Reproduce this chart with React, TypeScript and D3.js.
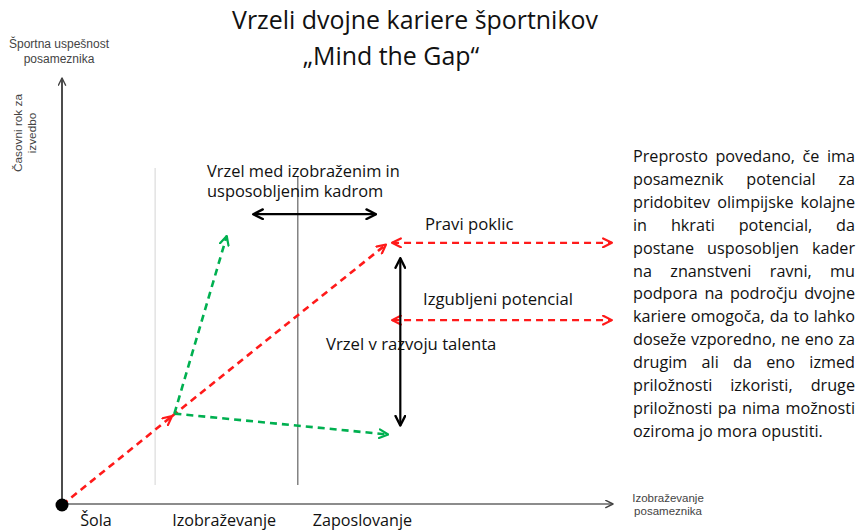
import React from "react";
import * as d3 from "d3";

const W = 858;
const H = 530;

const titleLines = ["Vrzeli dvojne kariere športnikov", "„Mind the Gap“"];
const yAxisTitle = ["Športna uspešnost", "posameznika"];
const yAxisSub = ["Časovni rok za", "izvedbo"];
const xAxisTitle = ["Izobraževanje", "posameznika"];
const stages = ["Šola", "Izobraževanje", "Zaposlovanje"];
const stageX = [3.3, 20, 45.5];

// arrows: [x1, y1, x2, y2] in diagram units (0..100)
const redArrows = [
  [0, 0, 19.96, 20.8],
  [19.96, 20.8, 58.8, 61],
];
const greenArrows = [
  [20.4, 21.4, 29.9, 63],
  [20.4, 21.4, 59.2, 16.5],
];
const redDouble = [
  [59.9, 61.4, 99.8, 61.4],
  [59.9, 43.3, 99.8, 43.3],
];
const blackDouble = [
  [61.4, 57.8, 61.4, 18.6],
  [34.7, 68.1, 57.0, 68.1],
];
const guideLines = [
  { x: 16.9, y1: 4.7, y2: 78.9, c: "#d8d8d8" },
  { x: 42.8, y1: 4.7, y2: 76.8, c: "#555" },
];

const labelVrzelMed = ["Vrzel med izobraženim in", "usposobljenim kadrom"];
const labelPravi = "Pravi poklic";
const labelIzgub = "Izgubljeni potencial";
const labelTalent = "Vrzel v razvoju talenta";

const paragraph = [
  "Preprosto povedano, če ima",
  "posameznik potencial za",
  "pridobitev olimpijske kolajne",
  "in hkrati potencial, da",
  "postane usposobljen kader",
  "na znanstveni ravni, mu",
  "podpora na področju dvojne",
  "kariere omogoča, da to lahko",
  "doseže vzporedno, ne eno za",
  "drugim ali da eno izmed",
  "priložnosti izkoristi, druge",
  "priložnosti pa nima možnosti",
  "oziroma jo mora opustiti.",
];

const FONT = "'Open Sans', Lato, sans-serif";
const SMALL = "'Liberation Sans', Arial, sans-serif";

let ctx: CanvasRenderingContext2D | null = null;
function measure(text: string, size: number, family: string) {
  if (!ctx) ctx = document.createElement("canvas").getContext("2d");
  if (!ctx) return text.length * size * 0.5;
  ctx.font = `${size}px ${family}`;
  return ctx.measureText(text).width;
}
function fit(text: string, target: number, family: string = FONT) {
  const w = measure(text, 100, family);
  return w > 0 ? (100 * target) / w : 15;
}

export default function App() {
  const x = d3.scaleLinear().domain([0, 100]).range([62, 613]);
  const y = d3.scaleLinear().domain([0, 100]).range([505, 78]);

  const parX0 = 633;
  const parX1 = 855;
  const parSize = fit(paragraph[paragraph.length - 1], 190);
  const parY0 = 162;
  const parDy = 22.9;

  const titleSize = fit(titleLines[0], 366);
  const stageSize = fit(stages[1], 104);
  const midSize = fit(labelVrzelMed[0], 193);
  const annSize = fit(labelIzgub, 150);

  const line = (a: number[], color: string, marker: string, dbl: boolean, dash: string | null, w: number, key: string) => (
    <line
      key={key}
      x1={x(a[0])}
      y1={y(a[1])}
      x2={x(a[2])}
      y2={y(a[3])}
      stroke={color}
      strokeWidth={w}
      strokeDasharray={dash ?? undefined}
      markerEnd={`url(#${marker})`}
      markerStart={dbl ? `url(#${marker})` : undefined}
    />
  );

  const mk = (id: string, color: string, sw: number, s: number) => (
    <marker
      id={id}
      viewBox="0 0 10 10"
      refX={9}
      refY={5}
      markerWidth={s}
      markerHeight={s}
      markerUnits="userSpaceOnUse"
      orient="auto-start-reverse"
    >
      <path d="M1,1 L9,5 L1,9" fill="none" stroke={color} strokeWidth={sw} strokeLinecap="round" strokeLinejoin="round" />
    </marker>
  );

  return (
    <svg width={W} height={H} style={{ position: "absolute", left: 0, top: 0, background: "#fff" }}>
      <defs>
        {mk("mRed", "#ff1a1a", 2, 11)}
        {mk("mGreen", "#00b050", 2, 11)}
        {mk("mBlack", "#000", 2, 12)}
        {mk("mAxis", "#444", 1.6, 9)}
      </defs>
      <rect width={W} height={H} fill="#fff" />

      {/* title */}
      <text x={415} y={29} textAnchor="middle" fontFamily={FONT} fontSize={titleSize} fill="#111">
        {titleLines[0]}
      </text>
      <text x={391} y={65} textAnchor="middle" fontFamily={FONT} fontSize={titleSize} fill="#111">
        {titleLines[1]}
      </text>

      {/* guide lines */}
      {guideLines.map((g, i) => (
        <line key={i} x1={x(g.x)} x2={x(g.x)} y1={y(g.y1)} y2={y(g.y2)} stroke={g.c} strokeWidth={1.1} />
      ))}

      {/* axes */}
      <line x1={x(0)} y1={y(0)} x2={x(0)} y2={y(100)} stroke="#111" strokeWidth={1.5} markerEnd="url(#mAxis)" />
      <line x1={x(0)} y1={y(0) - 1} x2={x(100)} y2={y(0) - 1} stroke="#666" strokeWidth={1.5} markerEnd="url(#mAxis)" />

      {/* arrows */}
      {redArrows.map((a, i) => line(a, "#ff1a1a", "mRed", false, "7,5", 2.6, "r" + i))}
      {greenArrows.map((a, i) => line(a, "#00b050", "mGreen", false, "7,5", 2.6, "g" + i))}
      {redDouble.map((a, i) => line(a, "#ff1a1a", "mRed", true, "7,5", 2.2, "rd" + i))}
      {blackDouble.map((a, i) => line(a, "#000", "mBlack", true, null, 2.2, "b" + i))}

      <circle cx={x(0)} cy={y(0)} r={6.5} fill="#000" />

      {/* axis titles */}
      {yAxisTitle.map((t, i) => (
        <text key={i} x={59} y={48 + i * 15} textAnchor="middle" fontFamily={SMALL} fontSize={12} fill="#444">
          {t}
        </text>
      ))}
      {yAxisSub.map((t, i) => (
        <text
          key={i}
          transform={`translate(${22 + i * 14},133) rotate(-90)`}
          textAnchor="middle"
          fontFamily={SMALL}
          fontSize={11.8}
          fill="#444"
        >
          {t}
        </text>
      ))}
      {xAxisTitle.map((t, i) => (
        <text key={i} x={668} y={502 + i * 13} textAnchor="middle" fontFamily={SMALL} fontSize={11.5} fill="#444">
          {t}
        </text>
      ))}

      {/* stage labels */}
      {stages.map((s, i) => (
        <text key={s} x={x(stageX[i])} y={526} fontFamily={FONT} fontSize={stageSize} fill="#111">
          {s}
        </text>
      ))}

      {/* annotations */}
      {labelVrzelMed.map((t, i) => (
        <text key={i} x={207} y={177 + i * 20} fontFamily={FONT} fontSize={midSize} fill="#111">
          {t}
        </text>
      ))}
      <text x={425} y={230} fontFamily={FONT} fontSize={annSize} fill="#111">{labelPravi}</text>
      <text x={423} y={305} fontFamily={FONT} fontSize={annSize} fill="#111">{labelIzgub}</text>
      <text x={326} y={350} fontFamily={FONT} fontSize={annSize} fill="#111">{labelTalent}</text>

      {/* paragraph, justified */}
      {paragraph.map((ln, li) => {
        const words = ln.split(" ");
        const yy = parY0 + li * parDy;
        const last = li === paragraph.length - 1;
        const widths = words.map((w) => measure(w, parSize, FONT));
        const sum = d3.sum(widths);
        const space = measure(" ", parSize, FONT);
        const gap = last || words.length < 2 ? space : Math.max(space * 0.6, (parX1 - parX0 - sum) / (words.length - 1));
        let cx = parX0;
        return words.map((w, wi) => {
          const el = (
            <text key={li + "-" + wi} x={cx} y={yy} fontFamily={FONT} fontSize={parSize} fill="#111">
              {w}
            </text>
          );
          cx += widths[wi] + gap;
          return el;
        });
      })}
    </svg>
  );
}
